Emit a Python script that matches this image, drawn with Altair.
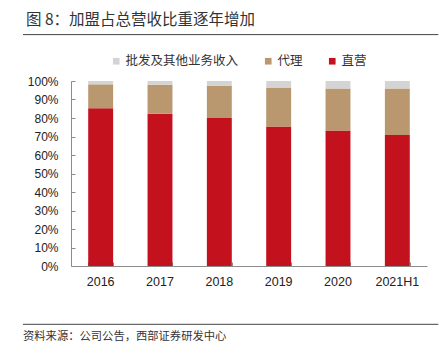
import altair as alt
import pandas as pd

years = ["2016", "2017", "2018", "2019", "2020", "2021H1"]
direct = [85.3, 82.3, 80.0, 75.4, 73.3, 70.8]
agency = [12.9, 15.7, 17.5, 20.8, 22.6, 25.2]
other = [round(100 - d - a, 1) for d, a in zip(direct, agency)]

series = ["批发及其他业务收入", "代理", "直营"]
colors = ["#D4D4D4", "#B9976F", "#C4111E"]
stack_order = {"直营": 0, "代理": 1, "批发及其他业务收入": 2}

title_text = "图 8：加盟占总营收比重逐年增加"
source_text = "资料来源：公司公告，西部证券研发中心"

rows = []
for i, y in enumerate(years):
    for name, vals in (("直营", direct), ("代理", agency), ("批发及其他业务收入", other)):
        rows.append({"year": y, "series": name, "value": vals[i] / 100.0, "ord": stack_order[name]})
df = pd.DataFrame(rows)

W, H = 356, 185
CJK = "Noto Sans CJK SC"
LAT = "Liberation Sans"

xscale = alt.Scale(domain=years, paddingInner=0.58, paddingOuter=0.29)
yscale = alt.Scale(domain=[0, 1])

bars = alt.Chart(df).mark_bar().encode(
    x=alt.X("year:N", scale=xscale, sort=years,
            axis=alt.Axis(title=None, labelAngle=0, ticks=False, labelPadding=9,
                          labelFont=LAT, labelFontSize=12.5, labelColor="#222222",
                          domainColor="#8c8c8c", grid=False)),
    y=alt.Y("value:Q", scale=yscale, stack="zero",
            axis=alt.Axis(title=None, format=".0%", values=[i / 10 for i in range(11)],
                          ticks=False, labelPadding=13, labelFont=LAT, labelFontSize=12,
                          labelColor="#222222", domainColor="#8c8c8c", grid=False)),
    color=alt.Color("series:N", scale=alt.Scale(domain=series, range=colors),
                    legend=alt.Legend(title=None, orient="none", legendX=39, legendY=-26,
                                      direction="horizontal", symbolType="square",
                                      symbolSize=44, symbolStrokeWidth=0,
                                      labelFont=CJK, labelFontSize=12.5, labelColor="#333333",
                                      columnPadding=23, labelOffset=3, padding=0,
                                      gridAlign="none")),
    order=alt.Order("ord:Q", sort="ascending"),
)

tickbars = alt.Chart(df).mark_bar(opacity=0).encode(
    x=alt.X("year:N", scale=xscale, sort=years,
            axis=alt.Axis(title=None, orient="top", offset=-H, labels=False, domain=False,
                          ticks=True, tickBand="extent", tickSize=4, tickColor="#8c8c8c", grid=False)),
    y=alt.Y("value:Q", scale=yscale, stack="zero",
            axis=alt.Axis(title=None, orient="right", offset=-W, labels=False, domain=False,
                          values=[i / 10 for i in range(11)],
                          ticks=True, tickSize=4, tickColor="#8c8c8c", grid=False)),
    order=alt.Order("ord:Q", sort="ascending"),
)

tdf = pd.DataFrame({"t": [title_text]})
title = alt.Chart(tdf).mark_text(align="left", baseline="middle", font=CJK, fontSize=15.5,
                                 color="#333333").encode(
    text="t:N", x=alt.value(-45), y=alt.value(-60.7))
title_rule = alt.Chart(tdf).mark_rule(color="#444444", strokeWidth=1).encode(
    x=alt.value(-48), x2=alt.value(367.3), y=alt.value(-46.4))

sdf = pd.DataFrame({"t": [source_text]})
source = alt.Chart(sdf).mark_text(align="left", baseline="middle", font=CJK, fontSize=11.3,
                                  color="#333333").encode(
    text="t:N", x=alt.value(-48), y=alt.value(256))
source_rule = alt.Chart(sdf).mark_rule(color="#444444", strokeWidth=1).encode(
    x=alt.value(-48), x2=alt.value(367.3), y=alt.value(243.3))

chart = alt.layer(bars, tickbars, title, title_rule, source, source_rule).resolve_axis(
    x="independent", y="independent"
).properties(
    width=W, height=H,
    autosize=alt.AutoSizeParams(type="none"),
    padding={"left": 63, "top": 73, "right": 12, "bottom": 85},
).configure_view(stroke=None)

chart.save("out.html", embed_options={"renderer": "svg", "actions": False})
